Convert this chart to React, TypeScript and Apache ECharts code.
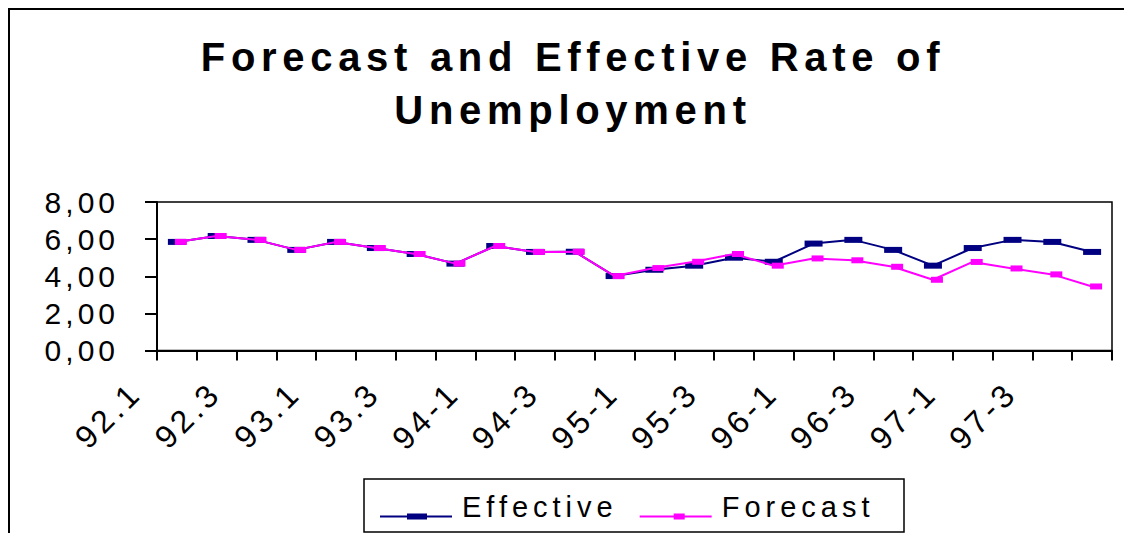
import React, { useEffect, useRef } from "react";
import * as echarts from "echarts";

const titleLines = ["Forecast and Effective Rate of", "Unemployment"];
const categories = [
  "92.1", "92.2", "92.3", "92.4", "93.1", "93.2", "93.3", "93.4",
  "94-1", "94-2", "94-3", "94-4", "95-1", "95-2", "95-3", "95-4",
  "96-1", "96-2", "96-3", "96-4", "97-1", "97-2", "97-3", "97-4",
];
const effective = [
  5.85, 6.17, 5.96, 5.42, 5.85, 5.52, 5.2, 4.68, 5.63, 5.31, 5.32, 4.01,
  4.35, 4.57, 5.0, 4.78, 5.76, 5.96, 5.42, 4.57, 5.52, 5.96, 5.85, 5.31,
];
const forecast = [
  5.85, 6.17, 5.96, 5.42, 5.85, 5.52, 5.2, 4.68, 5.63, 5.31, 5.32, 4.01,
  4.44, 4.78, 5.2, 4.57, 4.96, 4.86, 4.51, 3.81, 4.77, 4.42, 4.1, 3.45,
];
const yTickLabels = ["0,00", "2,00", "4,00", "6,00", "8,00"];
const seriesNames = ["Effective", "Forecast"];

const FONT = '"Liberation Sans", Arial, sans-serif';

const css = `
.chartbox text[style*="40px"] { letter-spacing: 5.7px; }
.chartbox text[style*="30px"] { letter-spacing: 4px; }
.chartbox text[style*="32px"] { letter-spacing: 4px; }
.chartbox text[style*="29px"] { letter-spacing: 5px; }
`;

export default function App() {
  const ref = useRef<HTMLDivElement>(null);
  useEffect(() => {
    if (!ref.current) return;
    const chart = echarts.init(ref.current, null, { renderer: "svg" });
    const axisLineStyle = { color: "#000", width: 2 };
    chart.setOption({
      animation: false,
      backgroundColor: "#fff",
      graphic: [
        {
          type: "rect",
          silent: true,
          shape: { x: 9, y: 9, width: 1400, height: 900 },
          style: { fill: "none", stroke: "#000", lineWidth: 2 },
        },
        {
          type: "rect",
          silent: true,
          shape: { x: 364, y: 479, width: 540, height: 53 },
          style: { fill: "none", stroke: "#000", lineWidth: 1.5 },
        },
        {
          type: "text",
          x: 573,
          y: 30,
          style: {
            text: titleLines.join("\n"),
            font: 'bold 40px "Liberation Sans", Arial, sans-serif',
            fill: "#000",
            textAlign: "center",
            textVerticalAlign: "top",
            lineHeight: 53,
          },
        },
      ],
      legend: {
        left: 380,
        top: 492,
        padding: 0,
        itemWidth: 72,
        itemHeight: 26,
        itemGap: 67,
        data: [
          {
            name: seriesNames[0],
            icon: "path://M0,0H0.01V0.01H0Z M0,22H72V24H0Z M27,20H47V26H27Z",
          },
          {
            name: seriesNames[1],
            icon: "path://M0,0H0.01V0.01H0Z M0,22H72V24H0Z M34,20H45V26H34Z",
          },
        ],
        textStyle: {
          fontSize: 29,
          fontFamily: FONT,
          color: "#000",
          padding: [0, 0, 0, 5],
        },
      },
      grid: {
        left: 157,
        top: 202,
        right: 12,
        bottom: 182.5,
        show: true,
        borderColor: "#000",
        borderWidth: 1.5,
        backgroundColor: "transparent",
      },
      xAxis: {
        type: "category",
        data: categories,
        boundaryGap: true,
        axisLine: { lineStyle: axisLineStyle },
        axisTick: { show: true, interval: 0, length: 10, lineStyle: axisLineStyle },
        axisLabel: {
          interval: 1,
          rotate: 45,
          margin: -4,
          padding: [0, 58, 0, 0],
          fontSize: 32,
          fontFamily: FONT,
          color: "#000",
        },
        splitLine: { show: false },
      },
      yAxis: {
        type: "value",
        min: 0,
        max: 8,
        interval: 2,
        axisLine: { show: true, lineStyle: axisLineStyle },
        axisTick: { show: true, length: 12, lineStyle: axisLineStyle },
        axisLabel: {
          margin: 38,
          fontSize: 30,
          fontFamily: FONT,
          color: "#000",
          formatter: (v: number) => yTickLabels[Math.round(v / 2)] ?? "",
        },
        splitLine: { show: false },
      },
      series: [
        {
          name: seriesNames[0],
          type: "line",
          data: effective,
          symbol: "rect",
          symbolSize: [18, 6],
          showAllSymbol: true,
          lineStyle: { color: "#000080", width: 2 },
          itemStyle: { color: "#000080", borderWidth: 0 },
          z: 2,
        },
        {
          name: seriesNames[1],
          type: "line",
          data: forecast,
          symbol: "rect",
          symbolSize: [12, 6],
          symbolOffset: [4, 0],
          showAllSymbol: true,
          lineStyle: { color: "#FF00FF", width: 2 },
          itemStyle: { color: "#FF00FF", borderWidth: 0 },
          z: 3,
        },
      ],
    });
    return () => chart.dispose();
  }, []);
  return (
    <>
      <style>{css}</style>
      <div
        ref={ref}
        className="chartbox"
        style={{ position: "fixed", left: 0, top: 0, width: 1124, height: 533 }}
      />
    </>
  );
}
